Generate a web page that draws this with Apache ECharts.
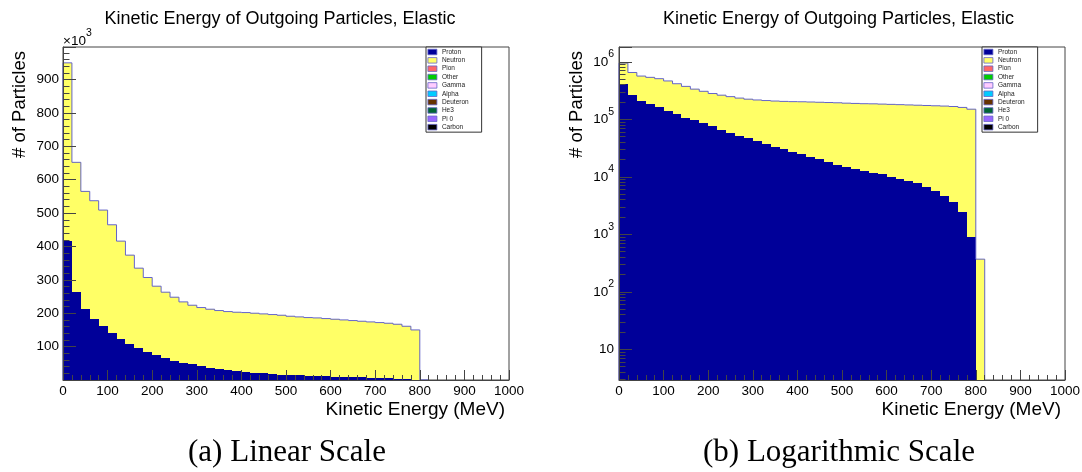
<!DOCTYPE html>
<html>
<head>
<meta charset="utf-8">
<title>Kinetic Energy of Outgoing Particles, Elastic</title>
<script src="https://cdn.jsdelivr.net/npm/echarts@6/dist/echarts.min.js"></script>
<style>
  html, body { margin: 0; padding: 0; background: #ffffff; }
  #chart { width: 1082px; height: 472px; }
</style>
</head>
<body>
<div id="chart"></div>
<script>
// Histogram bins: lower edges in MeV, each bin 20 MeV wide
const binLow = [0, 20, 40, 60, 80, 100, 120, 140, 160, 180, 200, 220, 240, 260, 280, 300,
  320, 340, 360, 380, 400, 420, 440, 460, 480, 500, 520, 540, 560, 580, 600, 620, 640,
  660, 680, 700, 720, 740, 760, 780, 800];
const binWidth = 20;

// Counts per bin for each outgoing particle type
const protonCounts = [416000, 263000, 212000, 184000, 161000, 140000, 124000, 107000, 96000,
  85000, 75500, 65000, 58000, 52000, 46800, 41400, 36700, 33400, 30000, 27000, 24600, 22100,
  20100, 17900, 16200, 15000, 13700, 12600, 11800, 11000, 9900, 9000, 8350, 7700, 6700, 5700,
  4700, 3650, 2400, 910, 0];
const neutronCounts = [534000, 389000, 353000, 353000, 348000, 325000, 292000, 267000, 239000,
  222000, 205500, 198000, 190000, 182000, 177200, 175600, 175300, 174600, 175000, 176000,
  177400, 177900, 177900, 178100, 177800, 176000, 175300, 174400, 174200, 173000, 172100,
  171000, 169650, 168300, 167300, 166300, 165300, 163350, 158600, 149090, 370];

// Legend entries (stack order) and their fill colours
const species = ['Proton', 'Neutron', 'Pion', 'Other', 'Gamma', 'Alpha', 'Deuteron', 'He3', 'Pi 0', 'Carbon'];
const speciesColors = ['#000099', '#ffff66', '#ff6666', '#00cc00', '#ffccff', '#00ccff',
  '#663300', '#006633', '#9966ff', '#000000'];

// Axis ranges
const xRange = [0, 1000];
const linYMax = 997500;
const logYRange = [2.93, 1.81e6];

const SANS = '"Liberation Sans", Arial, Helvetica, sans-serif';
const SERIF = '"Liberation Serif", "Times New Roman", serif';
const AXIS_COLOR = '#444';
const OUTLINE_COLOR = '#6464c8';

// Rich-text styles for "10" with a raised exponent
const powerRich = {
  b: { fontSize: 13.5, fontFamily: SANS, color: '#000', lineHeight: 26 },
  s: { fontSize: 10.5, fontFamily: SANS, color: '#000', verticalAlign: 'top' }
};

// Stack the layers: each item = [x0, x1, lower, upper, upperOfPrevBin, upperOfNextBin]
function stackLayers(layers) {
  const base = binLow.map(() => 0);
  return layers.map(counts => {
    const lower = base.slice();
    counts.forEach((c, i) => { base[i] += c; });
    const upper = base.slice();
    return binLow.map((x, i) => [x, x + binWidth, lower[i], upper[i],
      i > 0 ? upper[i - 1] : 0, i < upper.length - 1 ? upper[i + 1] : 0]);
  });
}
const stacked = stackLayers([protonCounts, neutronCounts]);

function makeRender(floor, color, outline) {
  return function (params, api) {
    const x0 = api.value(0), x1 = api.value(1);
    const lo = Math.max(api.value(2), floor);
    const hi = api.value(3);
    const cs = params.coordSys;
    const box = { x: cs.x, y: cs.y, width: cs.width, height: cs.height };
    const children = [];
    if (hi > lo) {
      const a = api.coord([x0, hi]);
      const b = api.coord([x1, lo]);
      const l = Math.round(a[0]), r = Math.round(b[0]);
      const t = Math.round(a[1]), bt = Math.round(b[1]);
      const shape = echarts.graphic.clipRectByRect({ x: l, y: t, width: r - l, height: bt - t }, box);
      if (shape) {
        children.push({ type: 'rect', shape: shape, style: { fill: color } });
      }
    }
    if (outline && hi > floor) {
      const prev = Math.max(api.value(4), floor);
      const next = api.value(5);
      const pts = [api.coord([x0, prev]), api.coord([x0, hi]), api.coord([x1, hi])];
      if (next <= floor) pts.push(api.coord([x1, floor]));
      children.push({
        type: 'polyline', shape: { points: echarts.graphic.clipPointsByRect(pts, box) },
        style: { stroke: OUTLINE_COLOR, lineWidth: 1, fill: null }
      });
    }
    return { type: 'group', children: children };
  };
}

function panelSeries(gridIdx, yAxisIdx, floor) {
  return species.map((name, k) => ({
    type: 'custom',
    name: name,
    xAxisIndex: gridIdx,
    yAxisIndex: yAxisIdx,
    itemStyle: { color: speciesColors[k] },
    encode: { x: [0, 1], y: [3] },
    renderItem: makeRender(floor, speciesColors[k], k === stacked.length - 1),
    data: k < stacked.length ? stacked[k] : [],
    silent: true,
    z: 2
  }));
}

function xAxisFor(gridIdx) {
  return {
    type: 'value', gridIndex: gridIdx, position: 'bottom',
    min: xRange[0], max: xRange[1], interval: 100, z: 10,
    axisLine: { show: true, onZero: false, lineStyle: { color: AXIS_COLOR, width: 1 } },
    axisTick: { show: true, inside: true, length: 10, lineStyle: { color: AXIS_COLOR } },
    minorTick: { show: true, splitNumber: 5, length: 5, lineStyle: { color: AXIS_COLOR } },
    axisLabel: { color: '#000', fontSize: 13.5, fontFamily: SANS, margin: 4, formatter: v => String(v) },
    splitLine: { show: false }
  };
}

// Minor ticks of the log axis at 2..9 x 10^n
const logMinorTicks = [];
for (let e = 0; e <= 6; e++) {
  for (let m = 2; m <= 9; m++) {
    const v = m * Math.pow(10, e);
    if (v > logYRange[0] && v < logYRange[1]) logMinorTicks.push(v);
  }
}

const option = {
  animation: false,
  backgroundColor: '#ffffff',
  grid: [
    { left: 63, right: 573, top: 47, bottom: 92, show: true, borderColor: AXIS_COLOR, borderWidth: 1, outerBoundsMode: 'none' },
    { left: 619, right: 17, top: 47, bottom: 92, show: true, borderColor: AXIS_COLOR, borderWidth: 1, outerBoundsMode: 'none' }
  ],
  xAxis: [xAxisFor(0), xAxisFor(1)],
  yAxis: [
    {
      type: 'value', gridIndex: 0, position: 'left', min: 0, max: linYMax, interval: 100000, z: 10,
      axisLine: { show: true, onZero: false, lineStyle: { color: AXIS_COLOR } },
      axisTick: { show: true, inside: true, length: 13, lineStyle: { color: AXIS_COLOR } },
      minorTick: { show: true, splitNumber: 5, length: 6.5, lineStyle: { color: AXIS_COLOR } },
      axisLabel: {
        color: '#000', fontSize: 13.5, fontFamily: SANS, margin: 4,
        formatter: v => (v > 0 && v % 100000 === 0) ? String(v / 1000) : ''
      },
      splitLine: { show: false }
    },
    {
      type: 'log', gridIndex: 1, position: 'left', logBase: 10, min: logYRange[0], max: logYRange[1], z: 10,
      axisLine: { show: true, onZero: false, lineStyle: { color: AXIS_COLOR } },
      axisTick: { show: true, inside: true, length: 13, lineStyle: { color: AXIS_COLOR } },
      minorTick: { show: false },
      axisLabel: {
        margin: 5,
        rich: powerRich,
        formatter: v => {
          const lg = Math.log10(v);
          const e = Math.round(lg);
          if (Math.abs(lg - e) > 1e-6 || e < 1) return '';
          return e === 1 ? '{b|10}' : '{b|10}{s|' + e + '}';
        }
      },
      splitLine: { show: false }
    },
    {
      type: 'log', gridIndex: 1, position: 'left', logBase: 10, min: logYRange[0], max: logYRange[1], z: 10,
      axisLine: { show: false },
      axisLabel: { show: false },
      axisTick: { show: true, inside: true, length: 6.5, customValues: logMinorTicks, lineStyle: { color: AXIS_COLOR } },
      splitLine: { show: false }
    }
  ],
  legend: [426, 982].map(x => ({
    data: species,
    orient: 'vertical',
    left: x,
    top: 47,
    icon: 'rect',
    itemWidth: 9,
    itemHeight: 5.5,
    itemGap: 0.35,
    padding: [1, 13, 1, 1.5],
    backgroundColor: '#ffffff',
    borderColor: '#333',
    borderWidth: 1,
    selectedMode: false,
    itemStyle: { borderColor: OUTLINE_COLOR, borderWidth: 0.8 },
    textStyle: { fontSize: 6.5, lineHeight: 8, color: '#222', fontFamily: SANS }
  })),
  series: [].concat(panelSeries(0, 0, 0), panelSeries(1, 1, logYRange[0])),
  graphic: [
    { type: 'text', x: 280, y: 19, style: { text: 'Kinetic Energy of Outgoing Particles, Elastic', fontSize: 18, fontFamily: SANS, fill: '#000', align: 'center', verticalAlign: 'middle' } },
    { type: 'text', x: 838.5, y: 19, style: { text: 'Kinetic Energy of Outgoing Particles, Elastic', fontSize: 18, fontFamily: SANS, fill: '#000', align: 'center', verticalAlign: 'middle' } },
    { type: 'text', x: 63, y: 41, style: { text: '{b|\u00d710}{s|3}', rich: powerRich, align: 'left', verticalAlign: 'middle' } },
    { type: 'text', x: 505, y: 410, style: { text: 'Kinetic Energy (MeV)', fontSize: 19, fontFamily: SANS, fill: '#000', align: 'right', verticalAlign: 'middle' } },
    { type: 'text', x: 1061, y: 410, style: { text: 'Kinetic Energy (MeV)', fontSize: 19, fontFamily: SANS, fill: '#000', align: 'right', verticalAlign: 'middle' } },
    { type: 'text', x: 19.5, y: 51, rotation: Math.PI / 2, style: { text: '# of Particles', fontSize: 18.5, fontFamily: SANS, fill: '#000', align: 'right', verticalAlign: 'middle' } },
    { type: 'text', x: 576.5, y: 51, rotation: Math.PI / 2, style: { text: '# of Particles', fontSize: 18.5, fontFamily: SANS, fill: '#000', align: 'right', verticalAlign: 'middle' } },
    { type: 'text', x: 287, y: 453, style: { text: '(a) Linear Scale', fontSize: 31, fontFamily: SERIF, fill: '#000', align: 'center', verticalAlign: 'middle' } },
    { type: 'text', x: 839, y: 453, style: { text: '(b) Logarithmic Scale', fontSize: 31, fontFamily: SERIF, fill: '#000', align: 'center', verticalAlign: 'middle' } }
  ]
};

const chart = echarts.init(document.getElementById('chart'), null, { renderer: 'canvas' });
chart.setOption(option);
</script>
</body>
</html>
